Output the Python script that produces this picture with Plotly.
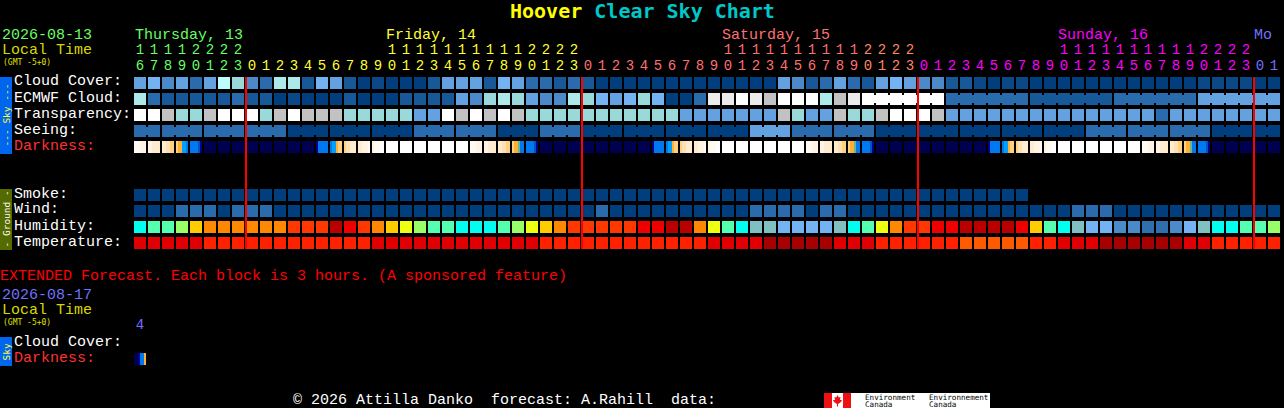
import plotly.graph_objects as go

W, H = 1284, 408
MONO = "Liberation Mono"
HEAVY = "DejaVu Sans Mono"

# ---------- data ----------
hours = [16,17,18,19,20,21,22,23,
         0,1,2,3,4,5,6,7,8,9,10,11,12,13,14,15,16,17,18,19,20,21,22,23,
         0,1,2,3,4,5,6,7,8,9,10,11,12,13,14,15,16,17,18,19,20,21,22,23,
         0,1,2,3,4,5,6,7,8,9,10,11,12,13,14,15,16,17,18,19,20,21,22,23,
         0,1]
GREEN, YEL, SAL, ORG, MAG, BLU = "#66ff66", "#ffff33", "#ff7070", "#ff8860", "#ff00ff", "#7070ff"
hour_colors = [GREEN]*8 + [YEL]*24 + [SAL]*20 + [ORG]*4 + [MAG]*24 + [BLU]*2

sky_palette = ["#003e7e","#0b4888","#175898","#2a6bad","#4c89c9","#63a1e1","#74b3f3",
               "#99d9d9","#aee9e9","#bdfdfd","#c2c2c2","#ebebeb","#ffffff"]
cloud_cover = [5,6,4,5,3,5,9,7,4,3,8,8,2,6,5,2,0,1,0,0,0,2,
               5,5,5,2,6,5,3,3,2,3,2,0,0,0,0,0,0,0,0,0,0,0,0,0,
               5,4,2,3,5,3,2,5,6,5,4,4,2,2,1,0,1,1,
               0,0,0,0,0,0,0,0,0,0,0,0,1,1,1,1,0,0]
ecmwf_cloud = [8,3,2,2,2,2,2,3,2,2,0,1,0,0,0,2,0,0,0,2,2,2,
               2,5,4,7,8,7,5,4,4,8,7,6,5,6,7,6,0,0,3,11,11,12,11,10,12,12,12,8,10,11,
               12,12,12,12,12,12,3,3,3,3,3,3,2,2,2,2,2,2,3,3,3,3,3,3,5,5,5,5,5,5]
ecmwf_runs = [(52,57),(58,63),(64,69),(70,75),(76,81)]
transparency = [12,12,10,7,7,10,12,12,12,7,10,12,10,10,10,7,7,7,7,7,5,5,
                12,10,12,10,12,10,7,7,7,7,7,7,7,7,7,7,7,5,5,5,5,5,5,5,10,7,5,5,10,7,
                7,10,12,12,12,10,5,5,5,5,5,5,5,5,5,5,5,5,5,5,5,3,5,5,5,5,5,5,5,5]
seeing = [3,3,3,3,3,3,3,3,3,3,3,0,0,0,0,0,0,0,0,0,3,3,3,3,3,3,0,0,0,3,3,3,
          0,0,0,0,0,0,0,0,0,0,0,0,5,5,5,3,3,3,3,3,3,0,0,0,0,0,0,0,0,0,0,0,0,
          0,0,0,3,3,3,3,3,3,3,3,3,0,0,0,0,0]
seeing_runs = [(0,1),(2,4),(5,7),(8,10),(11,13),(14,16),(17,19),(20,22),(23,25),(26,28),
               (29,31),(32,34),(35,37),(38,40),(41,43),(44,46),(47,49),(50,52),(53,55),
               (56,58),(59,61),(62,64),(65,67),(68,70),(71,73),(74,76),(77,79),(80,81)]
smoke = [0]*64
wind = [0,0,0,3,3,3,0,3,3,3,0,0,0,0,0,0,0,0,0,0,0,0,0,0,0,0,0,0,0,0,0,0,0,3,
        0,0,0,0,0,0,0,0,0,0,3,3,3,3,0,3,3,0,0,0,0,0,0,0,0,0,0,0,0,0,0,0,0,
        3,3,3,0,0,0,0,0,0,0,0,0,0,0,0]
hum_palette = ["#00ffee","#55ffb0","#99ff66","#eeff11","#ffcc00","#ff8800","#ff3800",
               "#ee0000","#b80000","#80c0c0","#74b3f3","#4c89c9","#2f6fb0"]
humidity = [0,1,1,2,4,5,5,5,5,5,5,6,6,6,8,7,6,5,4,3,2,1,1,0,0,0,1,2,3,4,5,6,6,6,6,6,7,7,8,8,
            5,3,1,0,9,9,10,10,10,10,9,0,1,3,5,6,6,7,7,8,8,8,8,7,4,1,0,9,10,10,11,11,12,12,11,10,9,0,0,1,1,2]
temp_palette = ["#a80000","#e00000","#ff2000","#ff5a00"]
temperature = [1,1,1,1,1,2,2,2,2,2,2,2,2,2,2,2,2,1,1,1,1,1,1,1,1,1,1,1,1,2,2,2,2,2,2,2,2,2,2,2,2,
               1,1,1,1,0,0,0,0,0,1,1,1,2,2,2,2,2,2,3,3,3,3,3,2,2,1,1,1,0,0,0,0,0,0,1,1,2,2,2,2,2]

dark_palette = ["#000050","#00008c","#0050c8","#0078f0","#00a0ff","#ffb030","#ffd080",
                "#ffe0b0","#ffecd0","#fff4e4","#fffbf2","#ffffff","#66b890"]
NIGHT=[0,0,0,0,0,0]; DAY=[11,11,11,11,11,11]
E1=[10,10,10,9,9,9]; E2=[9,9,8,8,8,8]; E3=[8,8,7,7,6,6]; E4=[6,5,5,4,4,3]; E4G=[6,5,5,12,3,3]; E5=[3,3,3,3,2,1]
M1=[1,3,3,3,3,3]; M2=[3,4,4,5,6,6]; M3=[6,7,7,8,8,8]; M4=[8,8,9,9,9,10]; M5=[9,10,10,10,11,11]
darkness = [E1,E2,E3,E4,E5,NIGHT,NIGHT,NIGHT,NIGHT,NIGHT,NIGHT,NIGHT,NIGHT,M1,M2,M3,M4,M5,
            DAY,DAY,DAY,DAY,DAY,DAY,
            E1,E2,E3,E4G,E5,NIGHT,NIGHT,NIGHT,NIGHT,NIGHT,NIGHT,NIGHT,NIGHT,M1,M2,M3,M4,M5,
            DAY,DAY,DAY,DAY,DAY,DAY,
            E1,E2,E3,E4G,E5,NIGHT,NIGHT,NIGHT,NIGHT,NIGHT,NIGHT,NIGHT,NIGHT,M1,M2,M3,M4,M5,
            DAY,DAY,DAY,DAY,DAY,DAY,
            E1,E2,E3,E4G,E5,NIGHT,NIGHT,NIGHT,NIGHT,NIGHT]
ext_darkness = [0,0,1,3,3,5]
midnights = [7.57, 31.57, 55.57, 79.57]

# ---------- scales: x unit = one block (14 px), y unit = one row (16 px) ----------
BLOCK_W, ROW_H = 12/14, 12/16
fig = go.Figure()

def row(values, palette, r):
    xs = list(range(len(values)))
    fig.add_trace(go.Bar(x=xs, y=[ROW_H]*len(xs), base=[r-ROW_H/2]*len(xs), width=BLOCK_W,
                         marker=dict(color=[palette[v] for v in values], line_width=0),
                         hoverinfo="skip", showlegend=False))

def joins(values, palette, runs, r):
    xs, cs = [], []
    for a, b in runs:
        for i in range(a, b):
            xs.append(i+0.5); cs.append(palette[values[i]])
    fig.add_trace(go.Bar(x=xs, y=[0.5]*len(xs), base=[r-0.25]*len(xs), width=3/14,
                         marker=dict(color=cs, line_width=0), hoverinfo="skip", showlegend=False))

def fine_row(blocks, palette, r):
    xs, cs = [], []
    for i, sub in enumerate(blocks):
        for k, v in enumerate(sub):
            xs.append(i+(k-2.5)*2/14); cs.append(palette[v])
    fig.add_trace(go.Bar(x=xs, y=[ROW_H]*len(xs), base=[r-ROW_H/2]*len(xs), width=2/14,
                         marker=dict(color=cs, line_width=0), hoverinfo="skip", showlegend=False))

row(cloud_cover, sky_palette, 0)
row(ecmwf_cloud, sky_palette, 1)
joins(ecmwf_cloud, sky_palette, ecmwf_runs, 1)
row(transparency, sky_palette, 2)
row(seeing, sky_palette, 3)
joins(seeing, sky_palette, seeing_runs, 3)
fine_row(darkness, dark_palette, 4)
row(smoke, sky_palette, 7)
row(wind, sky_palette, 8)
row(humidity, hum_palette, 9)
row(temperature, temp_palette, 10)
fine_row([ext_darkness], dark_palette, 17.25)

# midnight lines
lx, ly = [], []
for m in midnights:
    lx += [m, m, None]; ly += [-ROW_H/2, 10+ROW_H/2, None]
fig.add_trace(go.Scatter(x=lx, y=ly, mode="lines", line=dict(color="#ff0000", width=2),
                         hoverinfo="skip", showlegend=False))

# hour digits
def y_of(py): return (py-83)/16
DIGIT = 14
tens_x = [i for i, h in enumerate(hours) if h >= 10]
fig.add_trace(go.Scatter(x=tens_x, y=[y_of(50)]*len(tens_x), mode="text",
                         text=[str(hours[i]//10) for i in tens_x],
                         textfont=dict(family=MONO, size=DIGIT, color=[hour_colors[i] for i in tens_x]),
                         hoverinfo="skip", showlegend=False))
fig.add_trace(go.Scatter(x=list(range(len(hours))), y=[y_of(66)]*len(hours), mode="text",
                         text=[str(h%10) for h in hours],
                         textfont=dict(family=MONO, size=DIGIT, color=hour_colors),
                         hoverinfo="skip", showlegend=False))
fig.add_trace(go.Scatter(x=[0], y=[y_of(325)], mode="text", text=["4"],
                         textfont=dict(family=MONO, size=DIGIT, color=BLU),
                         hoverinfo="skip", showlegend=False))

anns, shapes = [], []
def label(px, py, s, color="#ffffff", size=15, anchor="left", angle=0, family=MONO):
    anns.append(dict(xref="paper", yref="paper", x=px/W, y=1-py/H, text=s, showarrow=False,
                     xanchor=anchor, yanchor="middle", textangle=angle, borderpad=0, borderwidth=0,
                     font=dict(family=family, size=size, color=color)))
def box(x0, y0, x1, y1, color):
    shapes.append(dict(type="rect", xref="paper", yref="paper", x0=x0/W, x1=x1/W,
                       y0=1-y1/H, y1=1-y0/H, fillcolor=color, line_width=0, layer="below"))

label(642, 11, "<b><span style='color:#ffff00'>Hoover</span> <span style='color:#00c8c8'>Clear Sky Chart</span></b>",
      size=20, anchor="center", family=HEAVY)
label(2, 35, "2026-08-13", GREEN)
label(2, 50, "Local Time", "#d8d800")
label(3, 62, "(GMT -5+0)", "#e0e000", size=8, family=HEAVY)
label(135, 35, "Thursday, 13", GREEN)
label(386, 35, "Friday, 14", YEL)
label(722, 35, "Saturday, 15", SAL)
label(1058, 35, "Sunday, 16", MAG)
label(1254, 35, "Mo", BLU)

for py, s, c in [(82,"Cloud Cover:","#ffffff"),(98,"ECMWF Cloud:","#ffffff"),(114,"Transparency:","#ffffff"),
                 (130,"Seeing:","#ffffff"),(146,"Darkness:","#ff3030"),(194,"Smoke:","#ffffff"),
                 (210,"Wind:","#ffffff"),(226,"Humidity:","#ffffff"),(242,"Temperature:","#ffffff"),
                 (342,"Cloud Cover:","#ffffff"),(358,"Darkness:","#ff3030")]:
    label(14, py, s, c)

box(0, 77, 12, 154, "#0066ee")
label(6, 115.5, "--- Sky ---", "#ffff33", size=9.5, anchor="center", angle=-90, family=HEAVY)
box(0, 189, 12, 250, "#556b00")
label(6, 219.5, "- Ground -", "#ffffff", size=9.5, anchor="center", angle=-90, family=HEAVY)
box(0, 337, 12, 366, "#0066ee")
label(6, 351.5, "Sky", "#ffff33", size=9.5, anchor="center", angle=-90, family=HEAVY)

label(0, 276, "EXTENDED Forecast. Each block is 3 hours. (A sponsored feature)", "#ff0000")
label(2, 295, "2026-08-17", BLU)
label(2, 310, "Local Time", "#d8d800")
label(3, 322, "(GMT -5+0)", "#e0e000", size=8, family=HEAVY)
label(293, 400, "\u00a9 2026 Attilla Danko\u00a0\u00a0forecast: A.Rahill\u00a0\u00a0data:")

# Environment Canada logo
box(824, 393, 990, 408, "#ffffff")
box(824, 393, 832, 408, "#ee1111")
box(843, 393, 851, 408, "#ee1111")
leaf = [(837.5,395),(838.8,397.5),(840.5,397),(840,400),(842,400),(841,402),(838,404),(838,406.5),
        (837,406.5),(837,404),(834,402),(833,400),(835,400),(834.5,397),(836.2,397.5)]
shapes.append(dict(type="path", xref="paper", yref="paper", fillcolor="#ee1111", line_width=0,
                   path="M"+" L".join(f"{x/W:.5f},{1-y/H:.5f}" for x, y in leaf)+" Z"))
for x, top, bot in [(865,"Environment","Canada"),(929,"Environnement","Canada")]:
    label(x, 397, top, "#000000", size=7.6, family=HEAVY)
    label(x, 404, bot, "#000000", size=7.6, family=HEAVY)

fig.update_layout(
    width=W, height=H, margin=dict(l=0, r=0, t=0, b=0),
    paper_bgcolor="#000000", plot_bgcolor="#000000", barmode="overlay", bargap=0,
    showlegend=False, annotations=anns, shapes=shapes,
    xaxis=dict(range=[-140/14, (W-140)/14], visible=False, fixedrange=True),
    yaxis=dict(range=[(H-83)/16, -83/16], visible=False, fixedrange=True),
)
fig.write_html("out.html", config=dict(displayModeBar=False),
               post_script="document.body.style.margin='0';document.body.style.background='#000';document.documentElement.style.overflow='hidden';")
